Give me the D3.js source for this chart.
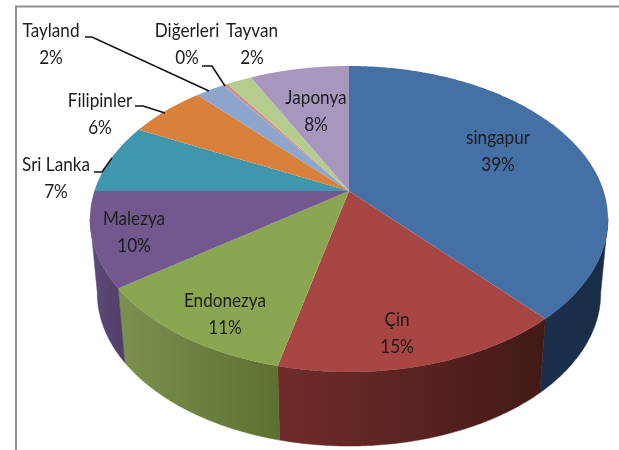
<!DOCTYPE html>
<html>
<head>
<meta charset="utf-8">
<script src="https://cdn.jsdelivr.net/npm/d3@7"></script>
<style>
  html, body { margin: 0; padding: 0; background: #fff; }
  text { font-family: "Lato", sans-serif; fill: #1c1c1c; }
</style>
</head>
<body>
<div id="chart"></div>
<script>
const categories = ["singapur", "Çin", "Endonezya", "Malezya", "Sri Lanka", "Filipinler", "Tayland", "Diğerleri", "Tayvan", "Japonya"];
const shares = [38.4, 15.3, 11.3, 10, 7.4, 5.8, 2.2, 0.3, 1.9, 7.4];
const percentLabels = ["39%", "15%", "11%", "10%", "7%", "6%", "2%", "0%", "2%", "8%"];
const topColors = ["#4470a6", "#a84644", "#8aa650", "#72588e", "#3f97ad", "#d9803a", "#8ea5cd", "#cf8d8b", "#b6cc8f", "#a797bf"];
const sideLeft = ["#1b304c", "#702c2c", "#7c9050", "#5f4b7a", "#2f7080", "#a0602c", "#6a7c9a", "#9a6a68", "#88996b", "#7d718f"];
const sideRight = ["#1a2d47", "#421a15", "#5d7030", "#4f3e66", "#2f7080", "#a0602c", "#6a7c9a", "#9a6a68", "#88996b", "#7d718f"];

const width = 619, height = 450;

// label position inside the slice, or outside with a leader line
const labelLayout = {
    "singapur": { x: 498, y: 144 },
    "Çin": { x: 397, y: 326 },
    "Endonezya": { x: 225, y: 307 },
    "Malezya": { x: 134, y: 225 },
    "Sri Lanka": { x: 56, y: 171, line: [[94, 172], [102, 172], [112, 158]] },
    "Filipinler": { x: 100, y: 107, line: [[135, 106], [143, 106], [165, 113]] },
    "Tayland": { x: 51, y: 37, line: [[85, 37], [92, 37], [209, 91]] },
    "Diğerleri": { x: 187, y: 37, line: [[202, 66], [212, 66], [225, 86]] },
    "Tayvan": { x: 252, y: 37 },
    "Japonya": { x: 316, y: 104 }
};

const svg = d3.select("#chart").append("svg")
    .attr("width", width)
    .attr("height", height)
    .style("display", "block");

const defs = svg.append("defs");
defs.append("filter")
    .attr("id", "soft")
    .append("feGaussianBlur")
    .attr("stdDeviation", 0.35);

// frame
svg.append("path")
    .attr("d", "M16,450V6.5H619")
    .attr("fill", "none")
    .attr("stroke", "#8f8f8f")
    .attr("stroke-width", 2);

// perspective view of the disc: apex at (cx, cy), near edge is bigger
const cx = 349, cy = 191, rx = 254.6, ry = 147.9, tilt = 0.183;
const depth = 74, shrink = 0.972;

function project(a) {
    const u = Math.sin(a), v = -Math.cos(a);
    const w = 1 - tilt * v;
    return [cx + rx * u / w, cy + ry * v / w];
}
function lowered(p) {
    return [cx + (p[0] - cx) * shrink, p[1] + depth];
}
function anglesBetween(a0, a1) {
    const n = Math.max(2, Math.ceil((a1 - a0) / 0.01));
    return d3.range(n + 1).map(i => a0 + (a1 - a0) * i / n);
}

const pie = d3.pie().value(d => d).sort(null);
const slices = pie(shares);
const line = d3.line();

// the wall shows only on the near part of the rim, between the widest points
const rimStart = Math.PI / 2 + 0.18, rimEnd = 3 * Math.PI / 2 - 0.18;
const walls = slices.map((d, i) => {
    const a0 = Math.max(d.startAngle, rimStart), a1 = Math.min(d.endAngle, rimEnd);
    if (a1 <= a0) return null;
    const rim = anglesBetween(a0, a1).map(project);
    return { i, rim, outline: rim.concat(rim.map(lowered).reverse()) };
}).filter(d => d);

walls.forEach(w => {
    const xs = w.outline.map(p => p[0]);
    const grad = defs.append("linearGradient")
        .attr("id", `side-${w.i}`)
        .attr("gradientUnits", "userSpaceOnUse")
        .attr("x1", d3.min(xs)).attr("x2", d3.max(xs))
        .attr("y1", 0).attr("y2", 0);
    grad.append("stop").attr("offset", "0%").attr("stop-color", sideLeft[w.i]);
    grad.append("stop").attr("offset", "100%").attr("stop-color", sideRight[w.i]);
});

svg.append("g").selectAll("path")
    .data(walls)
    .join("path")
    .attr("d", w => line(w.outline) + "Z")
    .attr("fill", w => `url(#side-${w.i})`)
    .attr("stroke", w => `url(#side-${w.i})`)
    .attr("stroke-width", 0.5);

svg.append("g").selectAll("path")
    .data(slices)
    .join("path")
    .attr("d", d => line([[cx, cy]].concat(anglesBetween(d.startAngle, d.endAngle).map(project))) + "Z")
    .attr("fill", (d, i) => topColors[i]);

// leader lines
svg.append("g").selectAll("path")
    .data(categories.filter(c => labelLayout[c].line))
    .join("path")
    .attr("d", c => line(labelLayout[c].line))
    .attr("fill", "none")
    .attr("stroke", "#111")
    .attr("stroke-width", 1.5);

// labels: name above percent
const labels = svg.append("g")
    .attr("filter", "url(#soft)")
    .selectAll("text")
    .data(categories)
    .join("text")
    .attr("text-anchor", "middle")
    .attr("font-size", 17.5)
    .attr("transform", c => `translate(${labelLayout[c].x},${labelLayout[c].y}) scale(0.98,1.14)`);

labels.append("tspan").attr("x", 0).attr("y", 0).text(c => c);
labels.append("tspan").attr("x", 0).attr("y", 24).text((c, i) => percentLabels[i]);
</script>
</body>
</html>
